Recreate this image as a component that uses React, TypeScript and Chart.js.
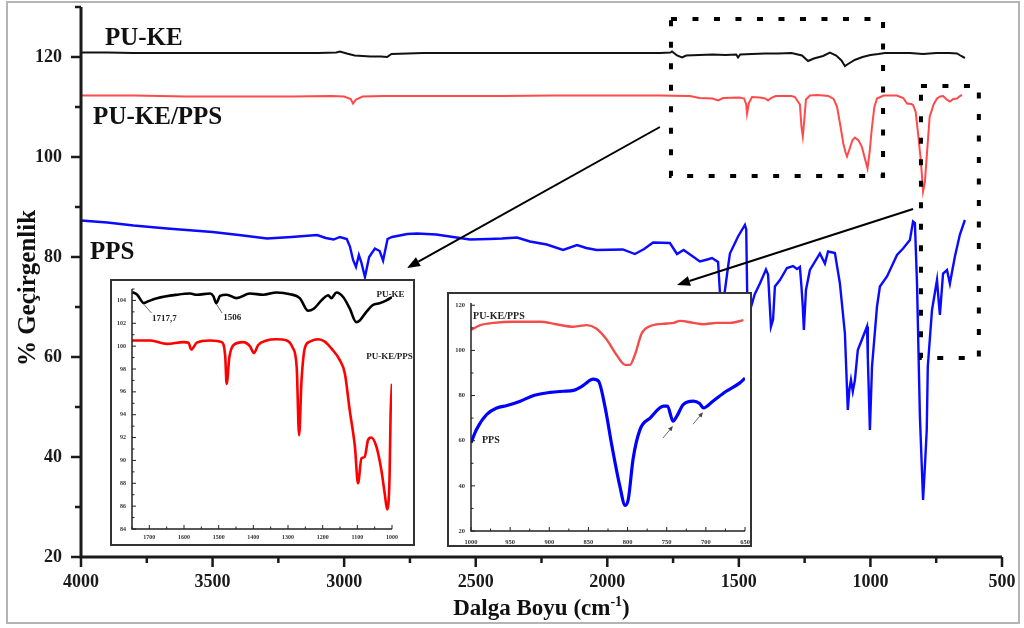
import React, { useEffect, useRef } from "react";
import { Chart, registerables } from "chart.js";

Chart.register(...registerables);

const SERIF = '"Liberation Serif", "Times New Roman", Times, serif';

// ================= main spectrum (4000-500 cm-1) =================
const mainXTicks = [4000, 3500, 3000, 2500, 2000, 1500, 1000, 500];
const mainYTicks = [20, 40, 60, 80, 100, 120];
const seriesNames = ["PU-KE", "PU-KE/PPS", "PPS"];

const puKeWave = [
  4000, 3900, 3800, 3700, 3600, 3450, 3300, 3200, 3100, 3030,
  3016, 2990, 2960, 2930, 2900, 2860, 2837, 2820, 2700, 2500,
  2300, 2100, 1900, 1800, 1760, 1754, 1735, 1716, 1700, 1650,
  1600, 1550, 1510, 1503, 1495, 1450, 1400, 1350, 1300, 1260,
  1237, 1215, 1180, 1154, 1130, 1110, 1097, 1085, 1060, 1030,
  1000, 970, 945, 900, 850, 800, 750, 700, 671, 655, 641,
];
const puKeT = [
  120.9, 120.9, 120.8, 120.8, 120.8, 120.8, 120.8, 120.8, 120.8, 120.9,
  121.1, 120.7, 120.3, 120.2, 120.1, 120.1, 120.0, 120.6, 120.8, 120.8,
  120.8, 120.8, 120.8, 120.8, 120.9, 121.1, 120.3, 119.9, 120.3, 120.4,
  120.5, 120.4, 120.5, 119.9, 120.5, 120.6, 120.7, 120.7, 120.8, 120.3,
  119.2, 119.7, 120.2, 120.9, 120.3, 119.3, 118.2, 118.6, 119.4, 120.0,
  120.4, 120.6, 120.8, 120.8, 120.8, 120.6, 120.8, 120.8, 120.7, 120.2, 119.8,
];

const mixWave = [
  4000, 3800, 3600, 3400, 3200, 3050, 3000, 2975, 2966, 2955,
  2930, 2850, 2600, 2400, 2200, 1950, 1800, 1700, 1686, 1650,
  1600, 1579, 1560, 1500, 1480, 1472, 1469, 1462, 1450, 1420,
  1400, 1389, 1378, 1360, 1300, 1287, 1268, 1262, 1257, 1252,
  1245, 1230, 1200, 1160, 1140, 1127, 1115, 1103, 1095, 1089,
  1080, 1068, 1059, 1045, 1033, 1020, 1011, 1003, 994, 985,
  975, 950, 900, 875, 861, 845, 838, 828, 819, 808,
  800, 793, 786, 775, 760, 747, 735, 724, 710, 698,
  685, 671, 660, 652,
];
const mixT = [
  112.3, 112.3, 112.1, 112.1, 112.1, 112.2, 112.1, 111.6, 110.7, 111.5,
  112.1, 112.2, 112.2, 112.2, 112.3, 112.3, 112.3, 112.2, 112.2, 111.8,
  111.7, 111.3, 111.8, 111.9, 111.7, 110.5, 108.7, 110.8, 112.0, 111.9,
  111.7, 111.3, 111.8, 112.2, 112.2, 112.0, 110.5, 106.0, 104.1, 107.0,
  111.5, 112.3, 112.4, 112.2, 111.6, 110.1, 106.5, 102.7, 101.0, 100.1,
  101.5, 103.4, 103.9, 103.3, 102.1, 99.5, 97.7, 101.0, 106.1, 110.0,
  111.7, 112.3, 112.3, 111.8, 110.7, 110.6, 110.4, 109.0, 104.7, 99.0,
  93.1, 95.0, 100.1, 108.0, 110.5, 111.7, 112.1, 112.2, 111.5, 111.1,
  111.6, 111.7, 112.2, 112.4,
];

const ppsWave = [
  4000, 3900, 3800, 3673, 3500, 3400, 3293, 3200, 3103, 3070,
  3040, 3016, 2990, 2978, 2966, 2955, 2944, 2935, 2921, 2905,
  2883, 2865, 2852, 2835, 2818, 2760, 2723, 2650, 2586, 2522,
  2450, 2400, 2343, 2294, 2230, 2168, 2115, 2080, 2040, 1941,
  1895, 1860, 1826, 1762, 1735, 1710, 1680, 1648, 1620, 1602,
  1579, 1572, 1566, 1560, 1545, 1534, 1503, 1477, 1472, 1469,
  1465, 1460, 1457, 1440, 1420, 1397, 1389, 1378, 1370, 1363,
  1344, 1317, 1294, 1279, 1268, 1262, 1257, 1253, 1245, 1230,
  1192, 1173, 1161, 1135, 1116, 1097, 1086, 1080, 1074, 1067,
  1059, 1048, 1033, 1013, 1010, 1002, 994, 975, 964, 937,
  899, 876, 850, 838, 831, 823, 812, 800, 793, 786,
  782, 766, 747, 743, 736, 724, 709, 698, 679, 660,
  641,
];
const ppsT = [
  87.3, 86.9, 86.3, 85.7, 85.0, 84.4, 83.7, 84.0, 84.4, 83.8,
  83.5, 84.0, 83.6, 82.1, 79.4, 78.0, 80.4, 79.0, 76.0, 80.0,
  81.7, 81.2, 79.3, 83.6, 84.0, 84.6, 84.7, 84.5, 84.0, 83.5,
  83.6, 83.7, 83.9, 83.1, 82.5, 81.4, 82.4, 81.8, 81.4, 81.5,
  80.6, 81.6, 82.9, 82.8, 80.6, 81.4, 80.3, 79.1, 79.5, 79.8,
  79.0, 73.0, 68.0, 70.5, 76.5, 80.7, 84.1, 86.4, 85.5, 75.0,
  62.0, 61.0, 69.4, 72.5, 74.7, 77.5, 76.5, 66.1, 67.5, 74.1,
  75.4, 77.8, 78.2, 77.6, 78.0, 74.0, 70.0, 65.4, 73.4, 77.4,
  80.7, 78.7, 81.1, 80.8, 74.7, 64.7, 49.4, 53.5, 55.4, 53.1,
  55.4, 61.4, 63.4, 66.1, 60.0, 45.4, 58.1, 70.1, 74.1, 76.1,
  80.4, 81.7, 83.4, 87.1, 86.8, 74.7, 48.1, 31.4, 38.1, 45.4,
  58.1, 69.4, 75.4, 72.7, 68.4, 76.7, 77.4, 74.7, 80.1, 84.5,
  87.4,
];

// ================= inset 1 (1750-1000 cm-1) =================
const in1XTicks = [1700, 1600, 1500, 1400, 1300, 1200, 1100, 1000];
const in1YTicks = [84, 86, 88, 90, 92, 94, 96, 98, 100, 102, 104];
const in1PuKeWave = [
  1750, 1735, 1716, 1702, 1678, 1620, 1582, 1563, 1525, 1515,
  1507, 1496, 1477, 1448, 1410, 1371, 1333, 1294, 1266, 1242,
  1227, 1199, 1184, 1175, 1160, 1141, 1122, 1103, 1093, 1074,
  1055, 1036, 1016, 1000,
];
const in1PuKeT = [
  104.73, 104.5, 103.77, 103.94, 104.2, 104.5, 104.6, 104.5, 104.6, 104.35,
  103.77, 104.4, 104.5, 104.2, 104.6, 104.5, 104.7, 104.55, 104.2, 103.1,
  103.25, 104.15, 104.45, 104.2, 104.7, 104.3, 103.3, 102.1, 102.25, 103.0,
  103.6, 103.75, 104.0, 104.3,
];
const in1MixWave = [
  1750, 1697, 1649, 1601, 1587, 1579, 1563, 1525, 1491, 1481,
  1477, 1469, 1457, 1429, 1410, 1398, 1386, 1362, 1333, 1304,
  1287, 1275, 1268, 1261, 1251, 1237, 1213, 1194, 1175, 1151,
  1136, 1122, 1107, 1098, 1088, 1079, 1069, 1060, 1045, 1031,
  1021, 1014, 1007, 1004, 1000,
];
const in1MixT = [
  100.5, 100.5, 100.2, 100.35, 100.3, 99.7, 100.3, 100.5, 100.35, 99.06,
  96.7, 99.06, 100.1, 100.35, 100.0, 99.4, 100.1, 100.5, 100.6, 100.5,
  99.9, 98.2, 92.2, 97.0, 99.9, 100.4, 100.6, 100.4, 99.8, 98.8,
  97.6, 94.4, 91.2, 88.0, 90.2, 90.3, 91.8, 92.0, 91.2, 89.2,
  87.1, 85.7, 88.6, 94.1, 96.7,
];

// ================= inset 2 (1000-650 cm-1) =================
const in2XTicks = [1000, 950, 900, 850, 800, 750, 700, 650];
const in2YTicks = [20, 40, 60, 80, 100, 120];
const in2MixWave = [
  1000, 988, 971, 946, 912, 891, 869, 852, 840, 827,
  814, 803, 797, 790, 782, 771, 750, 741, 733, 716,
  703, 686, 669, 652,
];
const in2MixT = [
  109.0, 111.2, 112.2, 112.7, 112.7, 111.6, 110.5, 111.2, 109.7, 104.9,
  98.0, 93.6, 93.6, 98.7, 107.5, 110.8, 111.9, 112.2, 113.1, 112.2,
  111.6, 112.2, 112.2, 113.4,
];
const in2PpsWave = [
  1000, 993, 980, 967, 954, 937, 920, 899, 882, 869,
  857, 844, 837, 829, 820, 810, 803, 799, 793, 784,
  771, 754, 749, 742, 737, 729, 716, 708, 703, 691,
  674, 657, 650,
];
const in2PpsT = [
  59.1, 65.0, 71.6, 74.5, 75.6, 77.5, 80.0, 81.4, 81.9, 82.3,
  84.4, 87.3, 86.3, 75.3, 57.7, 40.1, 31.3, 34.2, 51.8, 65.0,
  70.1, 75.3, 75.3, 68.7, 70.9, 76.0, 77.5, 76.5, 74.5, 77.5,
  81.9, 85.5, 87.7,
];

// ================= helpers =================
const pts = (xs: number[], ys: number[]) => xs.map((x, i) => ({ x, y: ys[i] }));
const steps = (a: number, b: number, st: number) => {
  const r: number[] = [];
  for (let v = a; v <= b + 1e-9; v += st) r.push(+v.toFixed(4));
  return r;
};
const minorOf = (a: number, b: number, st: number, majors: number[]) =>
  steps(a, b, st).filter((v) => !majors.includes(v));

function scaleCfg(o: {
  min: number; max: number; reverse?: boolean; ticks: number[]; size: number;
  vertical: boolean; font: number; padding: number; color: string;
}) {
  return {
    type: "linear",
    min: o.min,
    max: o.max,
    reverse: !!o.reverse,
    grid: { display: false, drawTicks: false },
    border: { display: false },
    afterBuildTicks: (s: any) => { s.ticks = o.ticks.map((v) => ({ value: v })); },
    afterFit: (s: any) => {
      if (o.vertical) s.width = o.size; else s.height = o.size;
      s.paddingTop = 0; s.paddingBottom = 0; s.paddingLeft = 0; s.paddingRight = 0;
    },
    ticks: {
      autoSkip: false, maxRotation: 0, minRotation: 0, padding: o.padding, color: o.color,
      font: { family: SERIF, size: o.font, weight: "bold" },
      callback: (v: any) => String(v),
    },
  };
}

type AxisSpec = {
  xMajor: number[]; xMinor: number[]; yMajor: number[]; yMinor: number[];
  majorLen: number; minorLen: number; inward: boolean; axisWidth: number; tickWidth: number; color: string;
};
function axesPlugin(spec: AxisSpec) {
  return {
    id: "customAxes",
    afterDraw(chart: any) {
      const { ctx, chartArea: a } = chart;
      const xs = chart.scales.x, ys = chart.scales.y;
      const s = spec.inward ? -1 : 1;
      ctx.save();
      ctx.strokeStyle = spec.color;
      ctx.lineWidth = spec.tickWidth;
      ctx.beginPath();
      const tx = (v: number, len: number) => {
        const p = xs.getPixelForValue(v);
        ctx.moveTo(p, a.bottom); ctx.lineTo(p, a.bottom + s * len);
      };
      const ty = (v: number, len: number) => {
        const p = ys.getPixelForValue(v);
        ctx.moveTo(a.left, p); ctx.lineTo(a.left - s * len, p);
      };
      spec.xMajor.forEach((v) => tx(v, spec.majorLen));
      spec.xMinor.forEach((v) => tx(v, spec.minorLen));
      spec.yMajor.forEach((v) => ty(v, spec.majorLen));
      spec.yMinor.forEach((v) => ty(v, spec.minorLen));
      ctx.stroke();
      ctx.lineWidth = spec.axisWidth;
      ctx.beginPath();
      ctx.moveTo(a.left, a.top);
      ctx.lineTo(a.left, a.bottom);
      ctx.lineTo(a.right, a.bottom);
      ctx.stroke();
      ctx.restore();
    },
  };
}

function drawArrow(ctx: CanvasRenderingContext2D, x1: number, y1: number, x2: number, y2: number, hl: number, hw: number) {
  const ang = Math.atan2(y2 - y1, x2 - x1);
  const bx = x2 - hl * Math.cos(ang), by = y2 - hl * Math.sin(ang);
  ctx.beginPath(); ctx.moveTo(x1, y1); ctx.lineTo(bx, by); ctx.stroke();
  ctx.beginPath();
  ctx.moveTo(x2, y2);
  ctx.lineTo(bx + hw * Math.sin(ang), by - hw * Math.cos(ang));
  ctx.lineTo(bx - hw * Math.sin(ang), by + hw * Math.cos(ang));
  ctx.closePath(); ctx.fill();
}

const baseOptions = (pad: any) => ({
  animation: false,
  responsive: false,
  devicePixelRatio: 1,
  events: [],
  layout: { padding: pad },
  plugins: { legend: { display: false }, tooltip: { enabled: false } },
  elements: { point: { radius: 0 } },
});

// annotation placements (in data units of each chart)
const mainLabelPos = [
  { w: 3909, v: 122.4 },
  { w: 3954, v: 106.6 },
  { w: 3966, v: 79.6 },
];
const zoomBoxes = [
  { w1: 1758, w2: 952, v1: 127.6, v2: 96.2 },
  { w1: 808, w2: 588, v1: 114.2, v2: 59.8 },
];
const mainArrows = [
  { w1: 1800, v1: 106, w2: 2761, v2: 77.8 },
  { w1: 838, v1: 89.6, w2: 1735, v2: 74.4 },
];

export default function App() {
  const mainRef = useRef<HTMLCanvasElement>(null);
  const in1Ref = useRef<HTMLCanvasElement>(null);
  const in2Ref = useRef<HTMLCanvasElement>(null);

  useEffect(() => {
    // ---------- main ----------
    const mainAnn = {
      id: "mainAnn",
      beforeDraw(chart: any) {
        const ctx = chart.ctx;
        ctx.save();
        ctx.strokeStyle = "#b4b4b4";
        ctx.lineWidth = 2;
        ctx.strokeRect(7, 2, 1012, 621);
        ctx.restore();
      },
      afterDraw(chart: any) {
        const ctx: CanvasRenderingContext2D = chart.ctx;
        const X = (w: number) => chart.scales.x.getPixelForValue(w);
        const Y = (v: number) => chart.scales.y.getPixelForValue(v);
        ctx.save();
        // dotted zoom boxes
        ctx.strokeStyle = "#000";
        ctx.lineWidth = 4;
        ctx.setLineDash([6, 15.5]);
        zoomBoxes.forEach((r) => {
          ctx.strokeRect(X(r.w1), Y(r.v1), X(r.w2) - X(r.w1), Y(r.v2) - Y(r.v1));
        });
        ctx.setLineDash([]);
        // arrows
        ctx.lineWidth = 2;
        ctx.fillStyle = "#000";
        mainArrows.forEach((a) => drawArrow(ctx, X(a.w1), Y(a.v1), X(a.w2), Y(a.v2), 13, 5));
        // series labels
        ctx.fillStyle = "#111";
        ctx.font = `bold 25px ${SERIF}`;
        ctx.textAlign = "left";
        ctx.textBaseline = "alphabetic";
        seriesNames.forEach((n, i) => ctx.fillText(n, X(mainLabelPos[i].w), Y(mainLabelPos[i].v)));
        // x title with superscript
        const t1 = "Dalga Boyu (cm", sup = "-1", t3 = ")";
        ctx.font = `bold 23px ${SERIF}`;
        const w1 = ctx.measureText(t1).width, w3 = ctx.measureText(t3).width;
        ctx.font = `bold 14px ${SERIF}`;
        const w2 = ctx.measureText(sup).width;
        const cx = (chart.chartArea.left + chart.chartArea.right) / 2;
        let sx = cx - (w1 + w2 + w3) / 2;
        const by = 615;
        ctx.font = `bold 23px ${SERIF}`;
        ctx.fillText(t1, sx, by);
        sx += w1;
        ctx.font = `bold 14px ${SERIF}`;
        ctx.fillText(sup, sx, by - 9);
        sx += w2;
        ctx.font = `bold 23px ${SERIF}`;
        ctx.fillText(t3, sx, by);
        // y title
        ctx.translate(35, 288);
        ctx.rotate(-Math.PI / 2);
        ctx.textAlign = "center";
        ctx.font = `bold 25px ${SERIF}`;
        ctx.fillText("% Geçirgenlik", 0, 0);
        ctx.restore();
      },
    };
    const mainChart = new Chart(mainRef.current as HTMLCanvasElement, {
      type: "line",
      data: {
        datasets: [
          { data: pts(puKeWave, puKeT), borderColor: "#111111", borderWidth: 2, pointRadius: 0, tension: 0 },
          { data: pts(mixWave, mixT), borderColor: "#ff4a4a", borderWidth: 2, pointRadius: 0, tension: 0 },
          { data: pts(ppsWave, ppsT), borderColor: "#0a0aff", borderWidth: 2.4, pointRadius: 0, tension: 0 },
        ],
      },
      options: {
        ...baseOptions({ left: 0, top: 7, right: 22, bottom: 0 }),
        scales: {
          x: scaleCfg({ min: 500, max: 4000, reverse: true, ticks: mainXTicks, size: 71, vertical: false, font: 18, padding: 15, color: "#1a1a1a" }),
          y: scaleCfg({ min: 20, max: 130, ticks: mainYTicks, size: 81, vertical: true, font: 18, padding: 19, color: "#1a1a1a" }),
        },
      } as any,
      plugins: [
        axesPlugin({
          xMajor: mainXTicks, xMinor: minorOf(500, 4000, 250, mainXTicks),
          yMajor: mainYTicks, yMinor: minorOf(20, 130, 10, mainYTicks),
          majorLen: 10, minorLen: 6, inward: false, axisWidth: 3, tickWidth: 2.5, color: "#1a1a1a",
        }),
        mainAnn,
      ] as any,
    });

    // ---------- inset 1 ----------
    const in1Ann = {
      id: "in1Ann",
      afterDraw(chart: any) {
        const ctx: CanvasRenderingContext2D = chart.ctx;
        const X = (w: number) => chart.scales.x.getPixelForValue(w);
        const Y = (v: number) => chart.scales.y.getPixelForValue(v);
        ctx.save();
        ctx.fillStyle = "#222";
        ctx.textAlign = "left";
        ctx.textBaseline = "alphabetic";
        ctx.font = `bold 9px ${SERIF}`;
        ctx.fillText(seriesNames[0], X(1045), Y(104.29));
        ctx.fillText(seriesNames[1], X(1074), Y(98.9));
        ctx.fillText("1717,7", X(1692), Y(102.2));
        ctx.fillText("1506", X(1487), Y(102.3));
        ctx.strokeStyle = "#444";
        ctx.lineWidth = 0.8;
        ctx.beginPath();
        ctx.moveTo(X(1717), Y(103.7)); ctx.lineTo(X(1694), Y(102.9));
        ctx.moveTo(X(1507), Y(103.7)); ctx.lineTo(X(1490), Y(102.9));
        ctx.stroke();
        ctx.restore();
      },
    };
    const in1 = new Chart(in1Ref.current as HTMLCanvasElement, {
      type: "line",
      data: {
        datasets: [
          { data: pts(in1PuKeWave, in1PuKeT), borderColor: "#000", borderWidth: 2.6, pointRadius: 0, cubicInterpolationMode: "monotone" },
          { data: pts(in1MixWave, in1MixT), borderColor: "#ff0000", borderWidth: 2.6, pointRadius: 0, cubicInterpolationMode: "monotone" },
        ],
      },
      options: {
        ...baseOptions({ left: 0, top: 8, right: 21, bottom: 0 }),
        scales: {
          x: scaleCfg({ min: 1000, max: 1750, reverse: true, ticks: in1XTicks, size: 15, vertical: false, font: 6, padding: 5, color: "#333" }),
          y: scaleCfg({ min: 84, max: 105, ticks: in1YTicks, size: 20, vertical: true, font: 6, padding: 6, color: "#333" }),
        },
      } as any,
      plugins: [
        axesPlugin({
          xMajor: in1XTicks, xMinor: minorOf(1000, 1750, 50, in1XTicks),
          yMajor: in1YTicks, yMinor: minorOf(84, 105, 1, in1YTicks),
          majorLen: 4, minorLen: 2.5, inward: true, axisWidth: 1.5, tickWidth: 1, color: "#222",
        }),
        in1Ann,
      ] as any,
    });

    // ---------- inset 2 ----------
    const in2Ann = {
      id: "in2Ann",
      afterDraw(chart: any) {
        const ctx: CanvasRenderingContext2D = chart.ctx;
        const X = (w: number) => chart.scales.x.getPixelForValue(w);
        const Y = (v: number) => chart.scales.y.getPixelForValue(v);
        ctx.save();
        ctx.fillStyle = "#222";
        ctx.textAlign = "left";
        ctx.textBaseline = "alphabetic";
        ctx.font = `bold 10px ${SERIF}`;
        ctx.fillText(seriesNames[1], X(997.4), Y(113.9));
        ctx.fillText(seriesNames[2], X(986), Y(59.0));
        ctx.strokeStyle = "#666";
        ctx.fillStyle = "#444";
        ctx.lineWidth = 1;
        drawArrow(ctx, X(754.7), Y(61.2), X(742), Y(66.5), 5, 2.2);
        drawArrow(ctx, X(716.4), Y(67.3), X(703.6), Y(72.6), 5, 2.2);
        ctx.restore();
      },
    };
    const in2 = new Chart(in2Ref.current as HTMLCanvasElement, {
      type: "line",
      data: {
        datasets: [
          { data: pts(in2MixWave, in2MixT), borderColor: "#f24c4c", borderWidth: 2.4, pointRadius: 0, cubicInterpolationMode: "monotone" },
          { data: pts(in2PpsWave, in2PpsT), borderColor: "#0000ff", borderWidth: 3.2, pointRadius: 0, cubicInterpolationMode: "monotone" },
        ],
      },
      options: {
        ...baseOptions({ left: 0, top: 9, right: 5, bottom: 0 }),
        scales: {
          x: scaleCfg({ min: 650, max: 1000, reverse: true, ticks: in2XTicks, size: 14, vertical: false, font: 6.5, padding: 7, color: "#333" }),
          y: scaleCfg({ min: 20, max: 121, ticks: in2YTicks, size: 22, vertical: true, font: 6.5, padding: 6, color: "#333" }),
        },
      } as any,
      plugins: [
        axesPlugin({
          xMajor: in2XTicks, xMinor: minorOf(650, 1000, 25, in2XTicks),
          yMajor: in2YTicks, yMinor: minorOf(20, 120, 10, in2YTicks),
          majorLen: 4, minorLen: 2.5, inward: true, axisWidth: 1.5, tickWidth: 1, color: "#222",
        }),
        in2Ann,
      ] as any,
    });

    return () => {
      mainChart.destroy();
      in1.destroy();
      in2.destroy();
    };
  }, []);

  const box = (left: number, top: number, w: number, h: number): React.CSSProperties => ({
    position: "absolute", left, top, width: w, height: h, boxSizing: "border-box",
    border: "2px solid #333", background: "#fff",
  });

  return (
    <div style={{ position: "absolute", left: 0, top: 0, width: 1024, height: 628, background: "#fff", overflow: "hidden" }}>
      <canvas ref={mainRef} width={1024} height={628} style={{ position: "absolute", left: 0, top: 0, width: 1024, height: 628 }} />
      <div style={box(110, 279, 305, 267)}>
        <canvas ref={in1Ref} width={301} height={263} style={{ display: "block", width: 301, height: 263 }} />
      </div>
      <div style={box(447, 292, 305, 255)}>
        <canvas ref={in2Ref} width={301} height={251} style={{ display: "block", width: 301, height: 251 }} />
      </div>
    </div>
  );
}
